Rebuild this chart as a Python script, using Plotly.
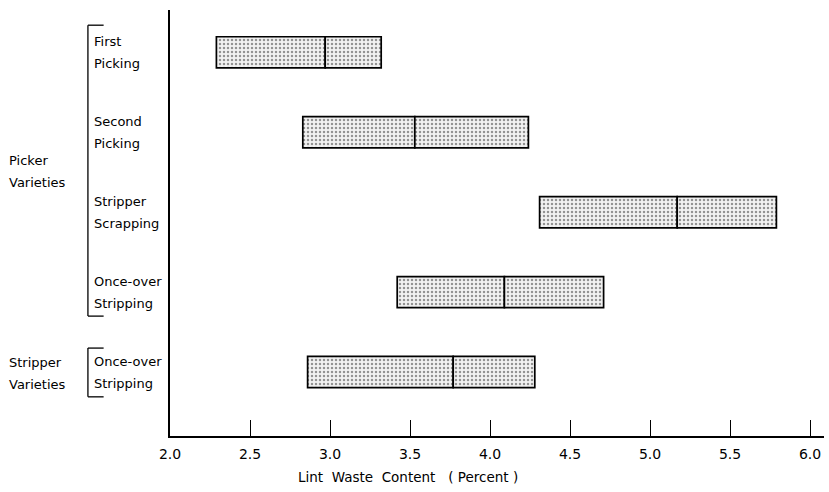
import plotly.graph_objects as go

cat_line1 = ["First", "Second", "Stripper", "Once-over", "Once-over"]
cat_line2 = ["Picking", "Picking", "Scrapping", "Stripping", "Stripping"]
positions = [5, 4, 3, 2, 1]
low = [2.29, 2.83, 4.31, 3.42, 2.86]
median = [2.97, 3.53, 5.17, 4.09, 3.77]
high = [3.32, 4.24, 5.79, 4.71, 4.28]
group_line1 = ["Picker", "Stripper"]
group_line2 = ["Varieties", "Varieties"]
group_y = [3.51, 0.98]
bracket_spans = [(1.70, 5.34), (0.69, 1.30)]
xticks = [2.0, 2.5, 3.0, 3.5, 4.0, 4.5, 5.0, 5.5, 6.0]

FONT = "DejaVu Sans"
pattern = dict(shape=".", fgcolor="#333", bgcolor="#f2f2f2", size=4, solidity=0.3)

fig = go.Figure()
for base_vals, lengths in [(low, [m - l for m, l in zip(median, low)]),
                           (median, [h - m for h, m in zip(high, median)])]:
    fig.add_trace(go.Bar(
        y=positions, x=lengths, base=base_vals, orientation="h",
        width=0.39, marker=dict(color="#f2f2f2", pattern=pattern,
                                line=dict(color="black", width=1.7)),
        showlegend=False, hoverinfo="skip"))

annotations = []
def two_line(x, y, l1, l2, size):
    for txt, shift in [(l1, 11), (l2, -11)]:
        annotations.append(dict(x=x, xref="paper", y=y, yref="y", text=txt,
                                showarrow=False, xanchor="left", yanchor="middle",
                                yshift=shift, align="left",
                                font=dict(family=FONT, size=size, color="black")))

for a, b, p in zip(cat_line1, cat_line2, positions):
    two_line(-0.119, p, a, b, 13)
for a, b, gy in zip(group_line1, group_line2, group_y):
    two_line(-0.250, gy, a, b, 13)

annotations.append(dict(x=3.49, xref="x", y=-0.072, yref="paper",
                        text="Lint  Waste  Content   ( Percent )", showarrow=False,
                        xanchor="center", yanchor="top",
                        font=dict(family=FONT, size=13.5, color="black")))

shapes = []
bx = -0.1255
bx2 = -0.1015
for y0, y1 in bracket_spans:
    for xa, xb, ya, yb in [(bx, bx, y0, y1), (bx, bx2, y0, y0), (bx, bx2, y1, y1)]:
        shapes.append(dict(type="line", xref="paper", yref="y", x0=xa, x1=xb, y0=ya, y1=yb,
                           line=dict(color="black", width=1.3)))

fig.update_layout(
    width=829, height=492, margin=dict(l=170, r=5, t=10, b=56),
    paper_bgcolor="white", plot_bgcolor="white", barmode="overlay",
    annotations=annotations, shapes=shapes,
    font=dict(family=FONT, size=13, color="black"),
)
fig.update_xaxes(range=[2.0, 6.0875], tickvals=xticks, ticktext=[f"{v:.1f}" for v in xticks],
                 ticks="inside", ticklen=16, tickwidth=1.3, tickcolor="black",
                 ticklabelstandoff=4,
                 showline=True, linecolor="black", linewidth=1.5, showgrid=False,
                 zeroline=False, tickfont=dict(family=FONT, size=14, color="black"))
fig.update_yaxes(range=[0.2, 5.53], showticklabels=False, ticks="", showline=True,
                 linecolor="black", linewidth=1.5, showgrid=False, zeroline=False)

fig.write_html("out.html")
